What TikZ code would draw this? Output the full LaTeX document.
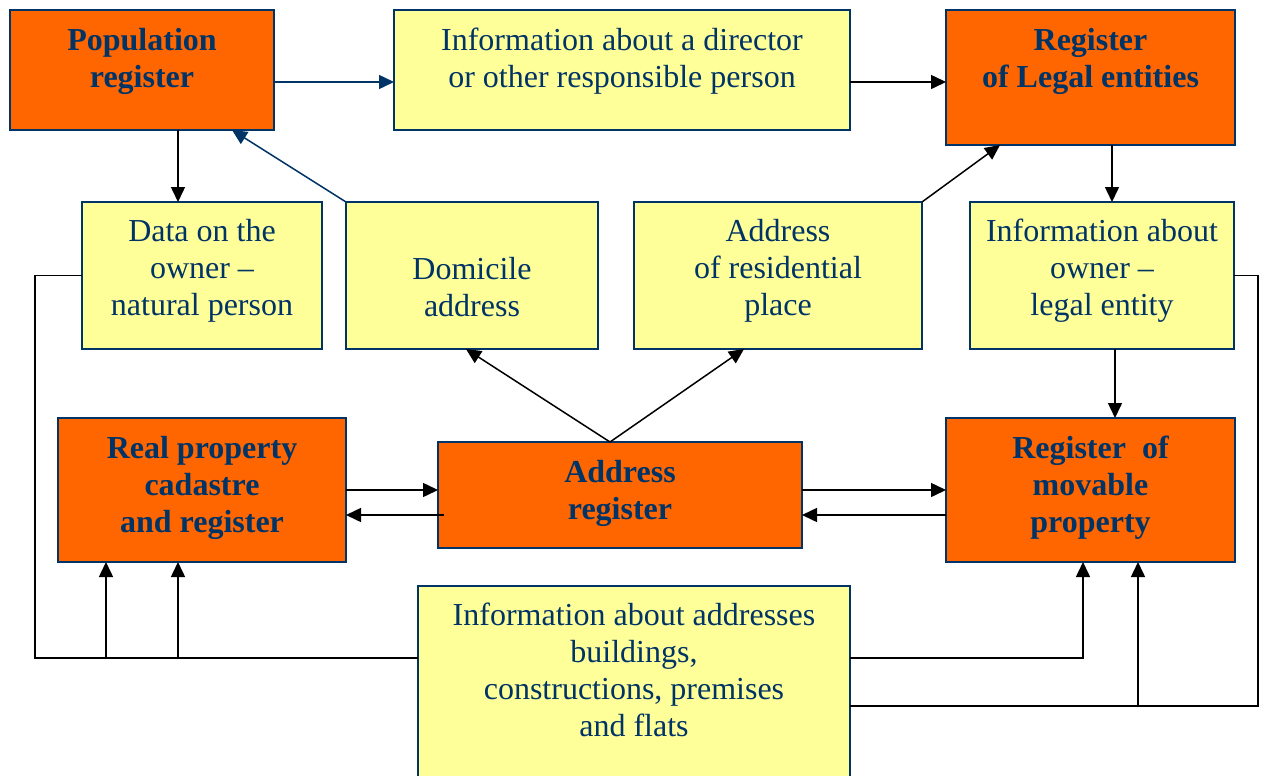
\documentclass[tikz,border=0pt]{standalone}
\usepackage{fontspec}
\setmainfont{Liberation Serif}
\usetikzlibrary{arrows.meta,calc}
\definecolor{regorange}{HTML}{FF6600}
\definecolor{infoyellow}{HTML}{FFFF99}
\definecolor{navy}{HTML}{003366}
\begin{document}
\begin{tikzpicture}[x=1pt,y=-1pt,
  box/.style={draw=navy, line width=1.4pt, inner sep=0pt, outer sep=0pt},
  regbox/.style={box, fill=regorange},
  infobox/.style={box, fill=infoyellow},
  regtext/.style={text=navy, font=\fontsize{32}{37}\selectfont\bfseries, align=center, inner sep=0pt},
  infotext/.style={text=navy, font=\fontsize{32}{37}\selectfont, align=center, inner sep=0pt},
  link/.style={line width=1.5pt, draw=black},
  arr/.style={link, -{Triangle[length=15pt,width=14pt]}},
  bluearr/.style={arr, draw=navy, fill=navy},
]
\useasboundingbox (0,0) rectangle (1264,776);

% registers (orange) and information blocks (yellow)
\node[regbox, minimum width=264, minimum height=120] (pop) at (142,70) {};
\node[regtext] (popt) at (142,61.5) {Population\\register};

\node[infobox, minimum width=456, minimum height=120] (dir) at (622,70) {};
\node[infotext] (dirt) at (622,61.5) {Information about a director\\or other responsible person};

\node[regbox, minimum width=289, minimum height=135] (legal) at (1090.5,77.5) {};
\node[regtext] (legalt) at (1090.5,61.5) {Register\\of Legal entities};

\node[infobox, minimum width=240, minimum height=147] (owner) at (202,275.5) {};
\node[infotext] (ownert) at (202,271) {Data on the\\owner –\\natural person};

\node[infobox, minimum width=252, minimum height=147] (dom) at (472,275.5) {};
\node[infotext] (domt) at (472,287) {Domicile\\address};

\node[infobox, minimum width=288, minimum height=147] (res) at (778,275.5) {};
\node[infotext] (rest) at (778,271) {Address\\of residential\\place};

\node[infobox, minimum width=264, minimum height=147] (ownerle) at (1102,275.5) {};
\node[infotext] (ownerlet) at (1102,271) {Information about\\owner –\\legal entity};

\node[regbox, minimum width=288, minimum height=144] (real) at (202,490) {};
\node[regtext] (realt) at (202,487.5) {Real property\\cadastre\\and register};

\node[regbox, minimum width=364, minimum height=106] (addr) at (620,495) {};
\node[regtext] (addrt) at (620,493) {Address\\register};

\node[regbox, minimum width=289, minimum height=144] (mov) at (1090.5,490) {};
\node[regtext] (movt) at (1090.5,487.5) {Register~ of\\movable\\property};

\node[infobox, minimum width=432, minimum height=196] (ainfo) at (634,684) {};
\node[infotext] (ainfot) at (634,670) {Information about addresses\\buildings,\\constructions, premises\\and flats};

% upper row of links
\draw[bluearr] ([yshift=-12]pop.east) -- ([yshift=-12]dir.west);
\draw[arr] ([yshift=-12]dir.east) -- ([yshift=-4.5]legal.west);
\draw[arr] ([xshift=36]pop.south) -- ([xshift=-24]owner.north);
\draw[bluearr] (dom.north west) -- ([xshift=90]pop.south);
\draw[arr] (res.north east) -- ([xshift=-90.5]legal.south);
\draw[arr] ([xshift=21.5]legal.south) -- ([xshift=10]ownerle.north);
\draw[arr] ([xshift=13]ownerle.south) -- ([xshift=24.5]mov.north);

% address register feeds the address blocks
\draw[arr] ([xshift=-10]addr.north) -- ([xshift=-6]dom.south);
\draw[arr] ([xshift=-10]addr.north) -- ([xshift=-34]res.south);

% exchanges with the address register
\draw[arr] (real.east) -- ([yshift=5]addr.west);
\draw[arr] ([xshift=6,yshift=-20]addr.west) -- ([yshift=-25]real.east);
\draw[arr] ([yshift=5]addr.east) -- (mov.west);
\draw[arr] ([yshift=-25]mov.west) -- ([yshift=-20]addr.east);

% left collector line
\coordinate (busL) at (35,658);
\coordinate (tapA) at (106,658);
\coordinate (tapB) at (178,658);
\draw[link] (owner.west) -| (busL) -- ([yshift=26]ainfo.west);
\draw[arr] (tapA) -- (tapA |- real.south);
\draw[arr] (tapB) -- (tapB |- real.south);

% right collector lines
\draw[arr] ([yshift=26]ainfo.east) -| ([xshift=-7.5]mov.south);
\coordinate (busR) at (1258,706);
\coordinate (tapC) at (1138,706);
\draw[link] ([yshift=-22]ainfo.east) -- (busR) |- (ownerle.east);
\draw[arr] (tapC) -- (tapC |- mov.south);
\end{tikzpicture}
\end{document}
